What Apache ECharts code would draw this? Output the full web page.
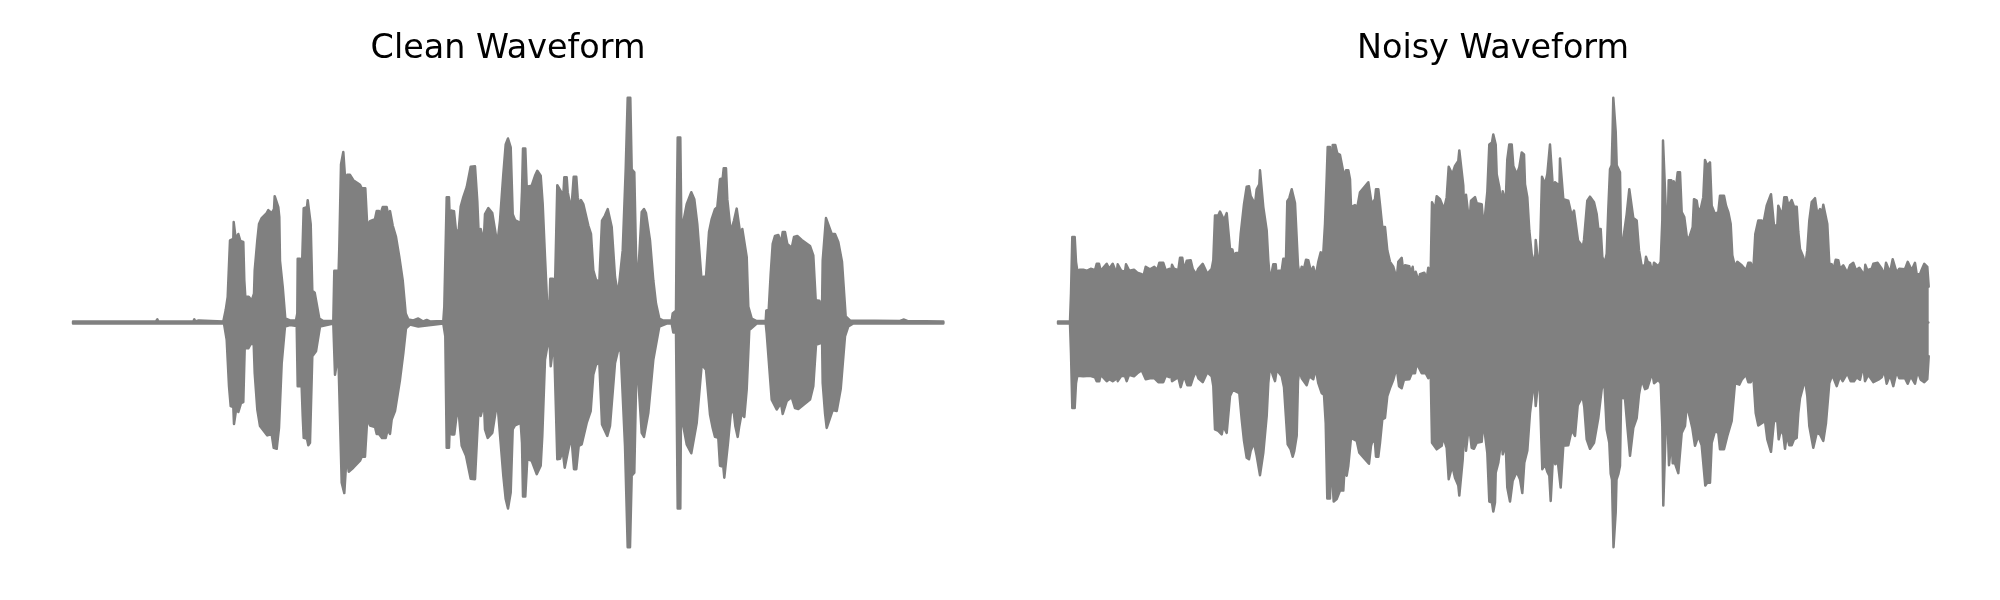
<!DOCTYPE html>
<html><head><meta charset="utf-8">
<script src="https://cdn.jsdelivr.net/npm/echarts@6/dist/echarts.min.js"></script>
<style>html,body{margin:0;background:#fff}#c{width:2000px;height:600px}</style>
</head><body><div id="c"></div>
<script>
const titles = ["Clean Waveform", "Noisy Waveform"];
const duration = 871;
const cleanUpper = [[0,1],[83,1],[84.3,3.2],[85.3,1],[120.3,1],[121.3,3.2],[122.3,1],[125.7,2],[150.3,1],[152.7,12.5],[154.7,25.8],[157,82.5],[160.3,84],[160.7,101],[162.3,101],[162.7,84],[164.7,84],[165.3,89],[166.7,89],[167.3,82],[170.3,81],[171.3,42.5],[172.3,26],[175.7,26],[178.7,22],[181,29],[181.7,52.5],[184.3,82.5],[186,99],[188.7,105],[193.7,110],[195.3,113],[198.7,110],[201,114],[201.7,127],[203.7,126],[205.3,116],[206.3,106],[207,62],[209.7,36],[212.3,4],[217,2],[223,2],[224.3,9],[224.7,64],[227,64],[227.7,39],[229.3,66],[230.7,115],[234,116],[234.7,123],[236.3,122],[237.7,99],[239.3,32],[241.7,30],[243.3,29],[246.3,4],[250.3,1.5],[260.3,1.5],[261.3,52],[264,52],[265,29],[266.3,76],[268,159],[270.3,171.5],[272.3,171.5],[273,132],[274.3,148.5],[277,148.5],[280.3,143],[287,138.5],[288.7,135],[292.3,135],[294.3,96],[297,102],[302,104],[303.7,112],[306,112],[307,107.5],[309.7,116],[313.7,116],[315.3,107.5],[317,112],[318.7,111],[319.7,97.5],[323,86],[326.3,66],[329.7,42.5],[332.7,9],[335.3,3],[340.3,2],[345.3,4],[350.3,1],[353.7,2.5],[357,1],[370.3,1.5],[371.3,16],[373.7,126],[376,126],[377,97.5],[378.7,112.5],[381,112],[383,92],[385.7,93],[387.7,116.5],[390.3,126],[393.7,136],[397.7,156.5],[402,157],[404.3,122],[406.3,74],[407.7,94],[409.7,94],[410.7,81],[412,109],[415.3,115],[419.3,110],[424.3,79],[427,102.5],[430.3,149],[432.7,179],[435,185],[435.3,186],[437.7,176],[439.7,109],[442,103],[447.7,100],[449,132],[450,175],[452.3,175],[453.7,136.5],[458.7,137.5],[462,147.5],[464.3,152.5],[467.7,147.5],[469.7,119],[472,66],[474,22.5],[476.3,12.5],[477.3,44],[479.7,44],[480.7,12.5],[482.3,49],[484.3,138],[486.3,137],[490.3,127.5],[491.3,146],[493.7,146],[494.7,131],[498.3,113],[500.7,146.5],[503.3,146.5],[504.7,126],[506.3,118.5],[508,123],[510.3,119],[515.3,97.5],[518,89],[520.3,52.5],[523,43],[526.3,41],[529,102.5],[532,107.5],[534.7,114],[536.3,112.5],[538.7,96],[542,46],[545,27.5],[547,29],[549.7,72.5],[552.7,154],[554.7,226],[557.3,226],[558.7,154],[561.3,151],[563,69],[564.3,32],[565.7,32.5],[568.7,111],[571,114],[573,110],[577,82.5],[580.3,42.5],[583,19],[586.3,4],[590.3,2],[598.7,2],[599.7,9],[601.7,10],[603,12],[603.7,102.5],[604.7,186],[607.3,186],[608.3,102.5],[609,46],[610.3,101],[613.7,119],[618.3,131],[621.3,124],[624.3,99],[628.7,41],[630.3,46],[633,46],[636,91],[638.7,104],[642,114],[644.3,116],[647,144],[649.7,145],[650.7,155],[653,155],[654.3,124],[657.7,91],[659.7,89],[661,102.5],[663.7,114.5],[665.7,114.5],[667.7,86],[669.3,94],[671.3,94],[673.7,66],[675.3,16],[678.7,4],[683.7,1.5],[692.7,1.5],[693.3,12],[695.7,12.5],[697.7,49],[699.7,79],[702,87],[705.3,88],[708,80],[709.7,91],[712,91],[714.3,79],[718.7,75],[721,86],[724.3,87],[728.7,83],[737,77],[740.3,67.5],[742.7,22.5],[746.3,22],[749,12.5],[749.7,62.5],[751,64],[753,105],[755,105],[758.7,89],[762,89],[765.3,81],[769,61],[772.7,6],[777,2],[827,1.5],[831,3],[834.3,1.5],[870.3,1]];
const cleanLower = [[0,1],[83,1],[83.7,3],[85,1],[120,1],[121,3],[122,1],[151,1],[153.7,17.5],[156,64],[157.7,84],[160.3,85],[161,102],[162.7,102],[163.7,83.5],[165.3,90],[167,90],[168,81],[170.3,80],[171.7,26],[175.3,26],[177.7,21.5],[180.7,21.5],[181.7,51],[184.3,87.5],[187,104],[194.3,113.5],[198.7,112.5],[200.7,126],[203.7,127],[206,106],[208.7,41],[212,4],[217,2.5],[223.7,3.5],[224.7,64],[227,64],[227.7,37.5],[229.7,94],[230.7,116],[234,117],[235.3,123.5],[237,121],[239.3,34],[243,29],[247,4],[260.3,1],[262,52.5],[263.7,52.5],[265.3,31],[268.7,161],[271.3,171.5],[272.7,171.5],[273.7,132.5],[275.7,150],[280.3,146],[287,139],[288.7,135],[292,135],[294.3,96],[297,103.5],[302,105],[303.7,112],[306,112],[309,116],[312.7,116],[314.7,107.5],[317,112],[318.7,97.5],[322,89],[327,57.5],[330.3,31],[333,6],[337,2],[345.3,4],[353.7,3],[370.3,1],[372.3,14],[373.7,126],[376,126],[377,99],[378.7,112.5],[381.3,112.5],[383.7,92.5],[386,94],[388.7,124],[393,134],[397.7,157],[402,157.5],[404.3,111],[406.3,72.5],[407.7,94],[409.7,94],[411,81],[412,107.5],[414.7,116],[419.3,111],[424.3,79],[430.3,154],[432.7,177.5],[435,187],[435.3,187],[437.7,171],[439.7,107.5],[442,103.5],[447.7,101],[449,121],[450,175],[452.3,175],[454.3,137],[458.7,139],[463.7,152.5],[467.7,144],[469.3,114],[472,37.5],[476.3,12.5],[477.7,44],[479.7,44],[481,17.5],[484.3,137.5],[487,137],[489.7,129],[491.7,146],[493.7,146],[494.7,131],[498.3,114],[501,147.5],[503.3,147.5],[505.7,124],[508.7,122.5],[513.7,101],[517.7,89],[520.3,52.5],[523,42.5],[526.3,40],[529,102.5],[534.3,114],[537,104],[542,41],[545.3,27],[547.7,29],[552,124],[554.7,226],[557,226],[558.7,154],[561.3,151],[563.7,32.5],[565.3,32.5],[568.7,111],[571,115],[575.3,91],[580.3,37.5],[586.3,4],[593.7,1],[598.7,1],[600.3,10],[603,10],[604.7,187],[607.3,187],[608.3,47.5],[610.3,104],[613.7,122.5],[618.3,131.5],[623.7,101],[628.7,42.5],[633,47.5],[637,92.5],[639.7,106],[642,115],[645.3,116],[647,144],[650.3,145],[651.3,156],[653,156],[655,121],[657.7,92],[660.3,86],[662.3,104],[664.7,115],[666.3,104],[668.7,91],[671.3,95],[673.7,67.5],[676.3,7.5],[683.7,1],[692.7,1],[693.7,11],[698.7,77.5],[703.7,87.5],[708,81],[709.7,92],[711.3,92],[713.7,79],[718.7,75],[722,86],[725.3,87],[737,77.5],[740.3,64],[743,22.5],[747,21],[749,12.5],[749.7,61],[752,91],[753.7,106],[755.3,106],[759.7,88],[763.7,89],[767.7,67],[772,14],[775.3,4],[780.3,1],[829,1],[830.3,3],[832,1],[870.3,1]];
const noisyUpper = [[0,1],[12,1],[13,29],[14.3,86],[16.7,86],[18,61],[19.3,52],[22,53],[25.3,53],[28.7,52],[32.7,54],[37,52.5],[38.7,59],[41,59],[42.7,52],[48.7,59],[51.3,54],[54.7,59],[56.7,54],[58.3,46],[59.7,58.5],[61.7,58.5],[63.3,52],[67,51],[68,58.5],[69.7,58.5],[71.3,52],[76,53],[79.3,50],[83.7,48.5],[85.3,46],[87.7,56],[92,53.5],[96.3,56],[99.3,53],[101.3,60],[105.3,60],[107.7,52.5],[111.3,54],[112.7,48.5],[114,58],[116,54],[120.3,52.5],[122,65],[124.3,65],[126,52.5],[128.7,62],[132.7,62.5],[134.7,54],[138,48.5],[140.3,54],[144.7,59],[147,54],[149.3,49],[153.7,54],[155.3,62.5],[157,107.5],[160.3,107.5],[162,111.5],[164,111.5],[166,103],[168.7,110],[170.3,110],[172,74],[174.3,73.5],[176,66.5],[178,70],[181.3,70],[182.7,89],[186,119],[188.7,136.5],[191,137],[192.7,127],[194.7,127],[197,119],[198.7,134],[201.3,139],[202,153],[204,153],[205.3,116],[208.7,92.5],[210.3,62.5],[212,42.5],[213.7,50],[215.3,58.5],[217.7,58.5],[218.7,46],[220.3,52],[223.7,52],[225.3,64],[228,64],[229.3,122],[231.3,125],[233.7,134],[235.7,134],[237,120],[238.7,118.5],[240,57.5],[241.7,47.5],[243.7,56],[246,54],[248,63],[250.3,62.5],[253,51],[255.3,56],[257.7,46],[260.3,61],[262.7,70.5],[265.3,70],[267,99],[268.7,146],[269.7,176.5],[272,176.5],[273.7,136],[274.7,178.5],[277.3,178.5],[279.3,170],[282,168.5],[283.7,168.5],[286.3,146],[288,153],[290.3,153],[292,144],[293,116],[297,118],[299.3,116],[302,131],[307,137],[310.3,141],[312,141],[313.7,119],[317,124],[318,134],[320.3,134],[322,118.5],[324.3,96],[327,96],[329.3,72.5],[332,61],[335.3,56],[338.7,44],[340.3,61],[343.7,65],[345.3,51],[347,57.5],[351.3,56.5],[352.7,50],[354.7,56],[356.3,41],[357.7,51],[359.7,51],[360.7,41],[362,48.5],[366.3,50],[368.7,44],[370.3,55],[372.7,51],[374,121],[376,121],[377,114],[378.7,127],[380.7,126],[382,124],[384,125],[386,114],[388.7,126],[390.7,156.5],[392.7,156.5],[394.3,149],[397,157.5],[400.3,162.5],[401.3,173],[403.3,173],[405.3,137.5],[406.7,94],[408,128.5],[410,128.5],[411.3,99],[413,122.5],[417,126],[418.7,120],[423.7,119],[425.3,97.5],[427,107.5],[429.3,131],[431.3,179],[434,181],[435.3,189],[437.7,179],[438.7,149],[441.3,136],[443.7,114],[444.7,132],[446.3,132],[447.7,121],[449.3,164],[451.3,179],[453.7,179],[455.3,157.5],[458.7,149],[461.3,156],[463.7,171],[466,169],[467,139],[469.3,126],[471.3,92.5],[473.7,69],[477,57.5],[477.7,83],[479.7,83],[481.3,49],[482.7,96],[484,146.5],[485.3,146],[487,139],[489.3,149],[491.3,150],[492,179],[494,179],[495.3,129],[497,141],[499.7,139],[501.3,127.5],[502,165],[504,165],[505.3,124],[510.3,122.5],[513.7,107.5],[516,112.5],[518,112.5],[520,82.5],[522.7,79],[524,72.5],[526,83],[528,84],[529.3,122.5],[532,126.5],[536,121],[538.7,109],[540.3,94],[542.7,94],[544.3,66],[546.7,59.5],[548.7,69],[550.3,114],[552,154],[553.7,158],[554.6,192],[555.3,226],[557,226],[557.7,192],[558.7,158],[562,151],[563.3,62.5],[564,75],[566,75],[568.7,109],[571.3,134],[573.3,134],[575.3,105],[578.7,102.5],[581,72.5],[583.7,56.5],[587,57.5],[588,66],[589.7,61],[592,60],[594.3,50],[596,60],[600.3,56.5],[602.7,61],[604.3,102.5],[605,183],[607,183],[608,109],[609.3,76],[610.7,143],[613.3,143],[614.3,116],[615.7,142],[618,136],[619.7,151],[622,151],[623.7,111],[626.3,106],[629.3,82],[632,87.5],[634.7,96],[636,124],[638.7,122.5],[640,114],[642.7,114],[645.3,126],[647,163.5],[649.3,157.5],[652,161],[653.7,117.5],[657,109],[660.3,111],[662,127.5],[666,127.5],[668,117.5],[670.3,111],[672.7,99],[674.3,67.5],[677,56],[679.3,61],[681.3,61],[683.7,57.5],[688,52.5],[690.3,60],[692.7,60],[695.3,52.5],[697.3,89],[700.3,102.5],[703.7,102.5],[705.3,99],[708.7,117.5],[713,129],[714.7,129],[716,97.5],[719.3,97.5],[720.3,117.5],[722,116.5],[724.3,107.5],[726.3,126],[728.7,126],[730.3,117.5],[733.7,123],[736,116.5],[738.7,116.5],[740.3,91],[742,74],[743.7,74],[745.3,66],[747,56],[749.3,72.5],[751.3,102.5],[753.7,121],[757,125],[759.3,109],[762,114],[764.3,111],[765.3,118.5],[767,118.5],[769.3,99],[771.3,59],[773.7,58.5],[775.3,52.5],[777.7,63],[780.3,62.5],[782,54],[785.3,57.5],[789.3,50],[792,57.5],[795.3,60],[798,52.5],[801.3,55],[804.7,50],[806,42.5],[807.3,58],[809.3,52.5],[813.7,54],[815.3,59],[819.7,60],[823.7,54],[826.3,47.5],[828,60],[830,60],[832,50],[834.7,63.5],[836.3,63.5],[838.7,50],[841.3,54],[847,53.5],[849.7,61],[851.3,61],[853.7,52.5],[857,60],[858.7,48.5],[862,48.5],[863.7,53],[866.3,59],[869.3,56],[870.7,36]];
const noisyLower = [[0,1],[12,1],[13,31],[14.3,86],[16.7,86],[18,61],[19.3,53.5],[25.3,54],[32,53.5],[37,55],[38.7,59],[41.3,59],[42.7,52.5],[48.7,59],[51.3,57],[54.7,59],[57,57.5],[58.3,47],[59.7,59],[61.7,59],[63.3,53.5],[67,54],[68.7,59],[71,52.5],[76,54],[79.3,51],[83.7,48],[85.3,47.5],[87.7,57],[92,56],[96.3,56],[100.3,60],[105.3,60],[107.7,53.5],[111.3,55],[112.7,49],[114,59],[120.3,55],[122.7,65],[124.3,65],[126,53.5],[129.3,63],[132.7,63],[135.3,55],[138,49],[140.3,56],[144.7,60],[147,55],[149.3,50],[153.7,54],[155.3,64],[157,107.5],[160.3,109],[163.7,112.5],[165.3,104],[168.7,111],[170.3,111],[172,74],[174.7,68],[177.3,69],[181.3,71],[183.7,97.5],[186,119],[188.7,136],[191,137.5],[192.7,129],[196,121],[198.7,134],[202,153.5],[203.3,153.5],[205.3,131],[208.7,94],[210.3,61],[212,44],[214.7,52.5],[217,59],[218.7,47.5],[223.7,54],[226,65],[228,65],[229.7,122.5],[232.7,127.5],[234.7,135],[236.3,129],[238.7,114],[240,59],[241.3,47.5],[243.7,56],[248.7,63],[251.3,54],[255.3,57],[257.7,46],[260.3,61],[263.7,71],[266,72.5],[267.7,101],[269.3,177],[272,177],[273,136],[275.7,180],[278.7,177.5],[282,169],[285.3,169],[286.7,144],[288.7,154],[290.3,144],[293,116],[298.7,119],[301.3,131],[307,137.5],[311,142],[313,124],[314.7,118],[317,121],[318,135],[320.3,135],[322,121],[324.3,97.5],[327,96],[329.3,74],[332,66],[335.3,57.5],[338.7,45],[341,64],[343.7,66],[346,57.5],[351.3,57],[353.7,51],[357,51],[358.7,41],[360.3,41],[363.7,51],[367.7,51],[370.3,56],[372.7,51],[374,121],[378.7,127.5],[383.7,124],[385.3,115],[388.7,126],[390.7,157.5],[392.7,157.5],[394.3,144],[397,156],[400.3,164],[401.3,174],[402.7,174],[404.7,138],[406.7,96],[408,129],[410,129],[411,102.5],[413.7,126],[416,127],[418.7,121],[423.7,120],[425.3,99],[429.3,131],[431.3,180],[434,181],[435.3,190],[437,181],[437.7,151],[440.3,141],[443.7,115],[444.7,132.5],[446.3,132.5],[447.7,122.5],[449.3,166],[452,180],[453.7,180],[454.7,159],[458.7,150],[462,157.5],[464.3,171.5],[466.3,141],[469.3,129],[472,91],[474.7,69],[476.3,58],[477.7,84],[479.7,84],[481.3,49],[482.7,97.5],[484.3,147.5],[487,142.5],[489.3,150],[491.3,154],[492.7,179.5],[494,179.5],[495.3,129],[497.3,142.5],[499.7,139],[502.7,166],[504,166],[505.3,124],[510.3,123.5],[513.7,108],[517,114],[519.7,83.5],[522.7,77.5],[524.3,72.5],[526.3,85],[528.7,117.5],[532,127],[536,121],[540.3,96],[543.7,67],[546.3,59],[548.7,107.5],[551.3,121],[552.7,152],[554,158],[554.7,191],[555.5,226],[557,226],[557.7,191],[558.5,158],[560.3,152.5],[562,144],[563.3,62.5],[564.7,76],[567,76.5],[569.3,104],[572,134],[573.3,134],[575.3,106],[578.7,96],[581,72.5],[583.7,57.5],[587,67],[589.3,66],[594.3,50],[596,61],[600.3,57.5],[602.7,61],[604.3,104],[605.3,184],[607,184],[608.7,72.5],[609.7,104],[611,143.5],[613.7,116],[614.7,141.5],[617,141.5],[620.3,151.5],[622,151.5],[623.7,111],[627,104],[628.7,82.5],[632,96],[634.3,106],[637,124],[640.3,114],[643.7,123.5],[647.3,164],[649.3,161],[652,161],[653.7,121],[657,109],[660.3,111],[662,127.5],[666,127.5],[669.3,114],[673.7,99],[677,61],[681.3,62.5],[683.7,57.5],[688,52.5],[690.3,60],[692.7,60],[695.3,53.5],[697.7,91],[700.3,103.5],[707,99],[709.3,117.5],[713,130],[714.7,130],[716,99],[719.3,99],[720.7,117.5],[723,107.5],[725.3,112.5],[727,127],[728.7,112.5],[731.3,123.5],[733.7,123.5],[736,117.5],[738.7,116],[740.3,91],[742,76],[744.7,66],[747,57],[749.3,74],[751.3,104],[755.3,126],[758.7,111],[762,112.5],[765.3,119],[768,101],[771.3,61],[774.3,52.5],[778.7,64],[782,54],[784.7,59],[789.3,51],[792.7,59],[796,59],[798.7,55],[802,57.5],[805.3,42.5],[807,59],[810.3,52.5],[815.3,60],[820.3,57.5],[823.7,55],[826.3,48],[828.7,61.5],[830.5,61.5],[832,52.5],[835.3,64],[838.7,49],[841.3,56],[847,56],[849.7,61.5],[852.7,54],[857,61.5],[859.7,49],[862.7,57.5],[866.3,60],[869.3,57],[870.7,34]];
const centreLine = [[0,0],[870.3,0]];

const GREY = '#808080';
const neg = a => a.map(p => [p[0], -p[1]]);
const wave = (data, idx, area) => ({
  type: 'line', data, xAxisIndex: idx, yAxisIndex: idx,
  showSymbol: false, symbol: 'none', silent: true, animation: false,
  smooth: false, clip: false,
  lineStyle: { color: GREY, width: 2.5, join: 'round', cap: 'round' },
  areaStyle: area ? { color: GREY, opacity: 1, origin: 0 } : undefined
});
const chart = echarts.init(document.getElementById('c'), null, { renderer: 'canvas' });
const plotLefts = [73, 1058];
const titleCentres = [503, 1488];
chart.setOption({
  backgroundColor: '#ffffff',
  animation: false,
  title: titles.map((t, i) => ({
    text: t, left: titleCentres[i], top: 28, textAlign: 'center',
    textStyle: { fontFamily: 'DejaVu Sans', fontSize: 33.4, fontWeight: 'normal', color: '#000' }
  })),
  grid: plotLefts.map(l => ({ left: l, width: duration, top: 82.5, height: 480 })),
  xAxis: plotLefts.map((_, i) => ({ type: 'value', gridIndex: i, min: 0, max: duration, show: false })),
  yAxis: plotLefts.map((_, i) => ({ type: 'value', gridIndex: i, min: -241.3, max: 241.3, show: false })),
  series: [
    wave(cleanUpper, 0, true), wave(neg(cleanLower), 0, true), wave(centreLine, 0, false),
    wave(noisyUpper, 1, true), wave(neg(noisyLower), 1, true), wave(centreLine, 1, false)
  ]
});
</script></body></html>
